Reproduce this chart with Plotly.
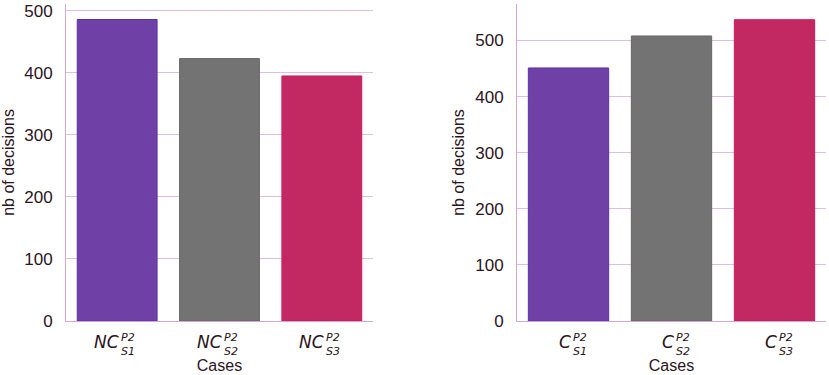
import plotly.graph_objects as go

# data
cases_left = ["NC_S1", "NC_S2", "NC_S3"]
values_left = [486, 423, 395]
main_left = ["NC", "NC", "NC"]
cases_right = ["C_S1", "C_S2", "C_S3"]
values_right = [451, 508, 537]
main_right = ["C", "C", "C"]
sups = ["P2", "P2", "P2"]
subs = ["S1", "S2", "S3"]
yticks_left = [0, 100, 200, 300, 400, 500]
yticks_right = [0, 100, 200, 300, 400, 500]

fill_colors = ["#6f41a6", "#737373", "#c22962"]
line_colors = ["#5b2fb5", "#666666", "#d0185a"]
grid_col = "#e2bde2"
axis_col = "#d4a6d4"
text_col = "#2a1420"

fig = go.Figure()
fig.add_trace(go.Bar(x=cases_left, y=values_left, marker=dict(color=fill_colors, line=dict(color=line_colors, width=1)),
                     xaxis="x", yaxis="y", showlegend=False, width=0.78))
fig.add_trace(go.Bar(x=cases_right, y=values_right, marker=dict(color=fill_colors, line=dict(color=line_colors, width=1)),
                     xaxis="x2", yaxis="y2", showlegend=False, width=0.78))

tickfont = dict(family="Liberation Sans, Arial", size=17, color=text_col)
titlefont = dict(family="Liberation Sans, Arial", size=16, color=text_col)

common_y = dict(showgrid=True, gridcolor=grid_col, gridwidth=1, showline=True, linecolor=axis_col, linewidth=1,
                ticks="", tickfont=tickfont, zeroline=False, ticklabelstandoff=9,
                title=dict(text="nb of decisions", font=titlefont, standoff=6))
common_x = dict(showgrid=False, showline=True, linecolor=axis_col, linewidth=1, ticks="", showticklabels=False,
                title=dict(text="Cases", font=titlefont, standoff=38), range=[-0.5, 2.5])

fig.update_layout(
    width=829, height=375, autosize=False,
    margin=dict(l=0, r=0, t=4, b=54),
    plot_bgcolor="white", paper_bgcolor="white",
    xaxis=dict(domain=[66/829, 373/829], anchor="y", **common_x),
    yaxis=dict(domain=[0, 1], anchor="x", range=[0, 511], tickvals=yticks_left, **common_y),
    xaxis2=dict(domain=[517/829, 826/829], anchor="y2", **common_x),
    yaxis2=dict(domain=[0, 1], anchor="x2", range=[0, 565], tickvals=yticks_right, **common_y),
    bargap=0.22,
)

mainfont = dict(family="DejaVu Sans, Noto Sans", size=17, color=text_col)
smallfont = dict(family="DejaVu Sans, Noto Sans", size=11, color=text_col)

for xref, cats, mains in (("x", cases_left, main_left), ("x2", cases_right, main_right)):
    for cat, m, sp, sb in zip(cats, mains, sups, subs):
        fig.add_annotation(x=cat, y=0, xref=xref, yref="paper", yshift=-21, text="<i>" + m + "</i>",
                           showarrow=False, xanchor="right", yanchor="middle", font=mainfont, xshift=4)
        fig.add_annotation(x=cat, y=0, xref=xref, yref="paper", yshift=-8,
                           text="<i>" + sp + "<br>" + sb + "</i>", align="left",
                           showarrow=False, xanchor="left", yanchor="top", font=smallfont, xshift=2)

fig.write_html("out.html", config={"displayModeBar": False},
               post_script="document.body.style.margin='0';document.body.style.overflow='hidden';")
